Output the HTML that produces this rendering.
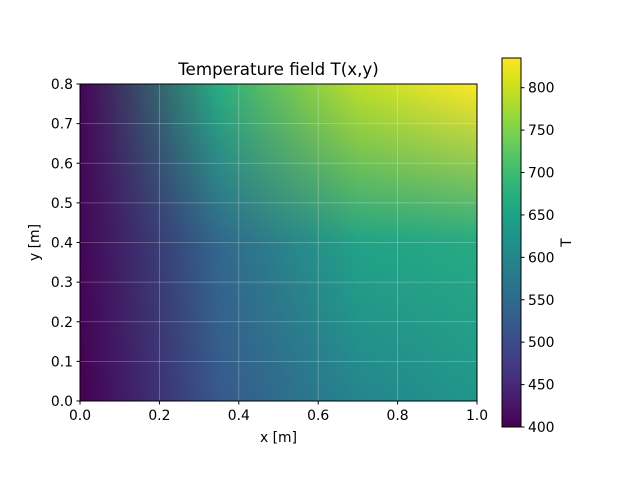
<!DOCTYPE html>
<html><head><meta charset="utf-8"><style>
body{margin:0;background:#fff;width:640px;height:480px;overflow:hidden;position:relative;font-family:"DejaVu Sans","Liberation Sans",sans-serif;}
canvas{position:absolute;}
svg{position:absolute;left:0;top:0;}
</style></head><body>
<canvas id="field" width="397" height="317" style="left:80px;top:84px;"></canvas>
<canvas id="cbar" width="19" height="369" style="left:502px;top:58px;"></canvas>
<svg id="ov" width="640" height="480"></svg>
<script>
// node grid (gouraud-like shading between nodes)
const xNodes = [0, 0.35, 0.7, 1.0];
const yNodes = [0, 0.4, 0.8];
const tRow0 = [400, 520, 595, 625];   // y = 0
const tRow1 = [405, 545, 650, 665];   // y = 0.4
const tRow2 = [405, 670, 790, 835];   // y = 0.8
const xTicks = [0, 0.2, 0.4, 0.6, 0.8, 1.0];
const xTickLabels = ["0.0","0.2","0.4","0.6","0.8","1.0"];
const yTicks = [0,0.1,0.2,0.3,0.4,0.5,0.6,0.7,0.8];
const yTickLabels = ["0.0","0.1","0.2","0.3","0.4","0.5","0.6","0.7","0.8"];
const cTicks = [400,450,500,550,600,650,700,750,800];
const vmin = 400, vmax = 835;

const rows = [tRow0, tRow1, tRow2];
const VIR = ["#440154","#48186a","#472d7b","#424086","#3b528b","#33638d","#2c728e","#26828e","#21918c","#1fa088","#28ae80","#3fbc73","#5ec962","#84d44b","#addc30","#d8e219","#fde725"].map(h=>[parseInt(h.substr(1,2),16),parseInt(h.substr(3,2),16),parseInt(h.substr(5,2),16)]);
function cmap(v){let t=(v-vmin)/(vmax-vmin);t=Math.max(0,Math.min(1,t))*16;const i=Math.min(15,Math.floor(t)),f=t-i;
return [0,1,2].map(k=>VIR[i][k]+(VIR[i+1][k]-VIR[i][k])*f);}
const X0=80,X1=477,Y0=401,Y1=84;
const sx=v=>X0+(X1-X0)*v, sy=v=>Y0-(Y0-Y1)*v/0.8;

// field
const fc=document.getElementById('field').getContext('2d');
const W=397,H=317,img=fc.createImageData(W,H);
const nodeCol=rows.map(r=>r.map(cmap));
function seg(arr,v){for(let i=0;i<arr.length-2;i++){if(v<=arr[i+1])return i;}return arr.length-2;}
for(let py=0;py<H;py++){const yv=0.8*(1-(py+0.5)/H);const j=seg(yNodes,yv);const fy=(yv-yNodes[j])/(yNodes[j+1]-yNodes[j]);
for(let px=0;px<W;px++){const xv=(px+0.5)/W;const i=seg(xNodes,xv);const fx=(xv-xNodes[i])/(xNodes[i+1]-xNodes[i]);
const a=nodeCol[j][i],b=nodeCol[j][i+1],c=nodeCol[j+1][i],d=nodeCol[j+1][i+1];const o=(py*W+px)*4;
for(let k=0;k<3;k++){img.data[o+k]=(a[k]*(1-fx)+b[k]*fx)*(1-fy)+(c[k]*(1-fx)+d[k]*fx)*fy;}img.data[o+3]=255;}}
fc.putImageData(img,0,0);

// colorbar
const cc=document.getElementById('cbar').getContext('2d');
for(let py=0;py<369;py++){const v=vmax-(vmax-vmin)*(py+0.5)/369;const c=cmap(v);cc.fillStyle=`rgb(${c[0]|0},${c[1]|0},${c[2]|0})`;cc.fillRect(0,py,19,1);}
const cy=v=>427-(v-vmin)*369/(vmax-vmin);

const svg=document.getElementById('ov');const NS="http://www.w3.org/2000/svg";
function mk(tag,attrs,txt){const e=document.createElementNS(NS,tag);for(const k in attrs)e.setAttribute(k,attrs[k]);if(txt!==undefined)e.textContent=txt;svg.appendChild(e);return e;}
const FS='13.9px';
// grid
xTicks.forEach((v,i)=>{const g=mk('line',{x1:sx(v),x2:sx(v),y1:Y1,y2:Y0,stroke:'rgba(255,255,255,0.3)','stroke-width':0.8});

});
yTicks.forEach((v,i)=>{const g=mk('line',{x1:X0,x2:X1,y1:sy(v),y2:sy(v),stroke:'rgba(255,255,255,0.3)','stroke-width':0.8});

});
// frame
const fr=mk('rect',{x:X0,y:Y1,width:X1-X0,height:Y0-Y1,fill:'none',stroke:'#000','stroke-width':1});


xTicks.forEach((v,i)=>{mk('line',{x1:sx(v),x2:sx(v),y1:Y0,y2:Y0+3.5,stroke:'#000'});
const t=mk('text',{x:sx(v),y:Y0+19,'text-anchor':'middle','font-size':FS},xTickLabels[i]);

});
yTicks.forEach((v,i)=>{mk('line',{x1:X0-3.5,x2:X0,y1:sy(v),y2:sy(v),stroke:'#000'});
const t=mk('text',{x:X0-7,y:sy(v)+5,'text-anchor':'end','font-size':FS},yTickLabels[i]);

});
const cf=mk('rect',{x:502,y:58,width:19,height:369,fill:'none',stroke:'#000','stroke-width':1});


cTicks.forEach(v=>{mk('line',{x1:521,x2:524.5,y1:cy(v),y2:cy(v),stroke:'#000'});
const t=mk('text',{x:528,y:cy(v)+5,'font-size':FS},String(v));

});
let e;
e=mk('text',{x:278.5,y:75,'text-anchor':'middle','font-size':'16.7px'},'Temperature field T(x,y)');


e=mk('text',{x:278.5,y:442,'text-anchor':'middle','font-size':FS},'x [m]');


e=mk('text',{x:39,y:242.5,'text-anchor':'middle','font-size':FS,transform:'rotate(-90 39 242.5)'},'y [m]');


e=mk('text',{x:571,y:242.5,'text-anchor':'middle','font-size':FS,transform:'rotate(-90 571 242.5)'},'T');


</script>
</body></html>
